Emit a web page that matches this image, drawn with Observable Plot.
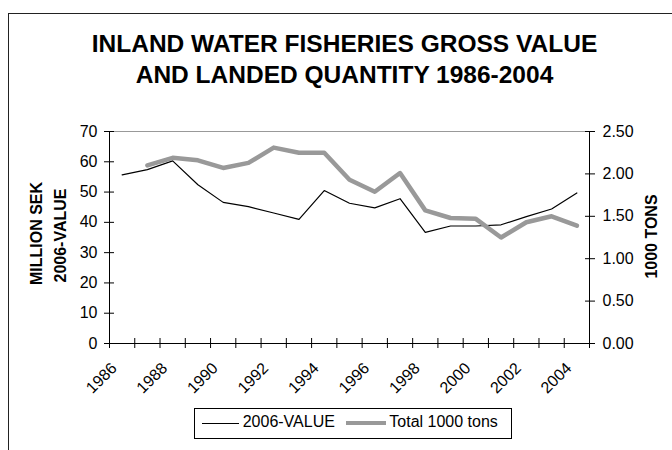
<!DOCTYPE html>
<html><head><meta charset="utf-8">
<script src="https://cdn.jsdelivr.net/npm/d3@7"></script>
<script src="https://cdn.jsdelivr.net/npm/@observablehq/plot@0.6"></script>
<style>
body{margin:0;background:#fff;font-family:"Liberation Sans",Arial,sans-serif;}
#wrap{position:relative;width:672px;height:450px;overflow:hidden;}
#frame{position:absolute;left:8px;top:13px;width:720px;height:520px;border:1px solid #222;}
#title{position:absolute;left:0;width:689px;top:27.6px;text-align:center;font-weight:bold;font-size:24.5px;line-height:31.8px;color:#000;}
#chart{position:absolute;left:0;top:0;}
#legend{position:absolute;left:194px;top:408px;width:316px;height:29px;border:1px solid #000;background:#fff;font-size:16px;}
#legend .sw{position:absolute;height:0;}
#legend .tx{position:absolute;top:5px;line-height:16px;white-space:nowrap;}
</style></head>
<body>
<div id="wrap">
  <div id="frame"></div>
  <div id="chart"></div>
  <div id="title"></div>
  <div id="legend"></div>
</div>
<script>
const titleLines = ["INLAND WATER FISHERIES GROSS VALUE", "AND LANDED QUANTITY 1986-2004"];
const years = [1986,1987,1988,1989,1990,1991,1992,1993,1994,1995,1996,1997,1998,1999,2000,2001,2002,2003,2004];
const value2006 = [55.7,57.4,60.3,52.4,46.6,45.2,43.1,41.0,50.5,46.3,44.8,47.8,36.7,38.8,38.8,39.2,41.9,44.4,49.7];
const tons = [null,2.10,2.19,2.16,2.07,2.13,2.31,2.25,2.25,1.93,1.79,2.01,1.57,1.48,1.47,1.25,1.43,1.50,1.39];
const seriesNames = ["2006-VALUE", "Total 1000 tons"];
const leftTicks = [0,10,20,30,40,50,60,70];
const rightTicks = [0,0.5,1,1.5,2,2.5];
const labelYears = [1986,1988,1990,1992,1994,1996,1998,2000,2002,2004];
const leftTitle = ["MILLION SEK", "2006-VALUE"];
const rightTitle = "1000 TONS";

const leftMax = leftTicks[leftTicks.length-1];
const rightMax = rightTicks[rightTicks.length-1];
const ratio = leftMax / rightMax;

const data = years.map((y,i) => ({year: y, value: value2006[i], tons: tons[i]}));
const boundaries = years.map(y => y - 0.5).concat([years[years.length-1] + 0.5]);
const x0 = years[0] - 0.5, x1 = years[years.length-1] + 0.5;

document.getElementById("title").innerHTML = titleLines.join("<br>");

const plot = Plot.plot({
  width: 672, height: 450,
  marginLeft: 109, marginRight: 83, marginTop: 131, marginBottom: 107,
  style: {fontFamily: "'Liberation Sans', Arial, sans-serif", fontSize: "16px", background: "transparent", color: "#000", overflow: "visible"},
  x: {type: "linear", domain: [x0, x1]},
  y: {domain: [0, leftMax]},
  marks: [
    Plot.ruleY([leftMax], {stroke: "#999"}),
    Plot.ruleY([0], {stroke: "#000"}),
    Plot.ruleX([x0, x1], {stroke: "#000"}),
    Plot.axisY(leftTicks, {anchor: "left", tickSize: 10, dx: 5, tickFormat: () => "", label: null}),
    Plot.axisY(leftTicks, {anchor: "left", tickSize: 0, tickPadding: 12, label: null}),
    Plot.axisY(rightTicks.map(d => d * ratio), {anchor: "right", tickSize: 10, dx: -5, tickFormat: () => "", label: null}),
    Plot.axisY(rightTicks.map(d => d * ratio), {anchor: "right", tickSize: 0, tickPadding: 13, tickFormat: d => (d / ratio).toFixed(2), label: null}),
    Plot.axisX(boundaries, {anchor: "bottom", tickSize: 10, dy: -5, tickFormat: () => "", label: null}),
    Plot.axisX(labelYears, {anchor: "bottom", tickSize: 0, tickRotate: -45, tickPadding: 22, dx: -8, tickFormat: d => String(d), label: null}),
    Plot.line(data, {x: "year", y: "value", stroke: "#000", strokeWidth: 1.2}),
    Plot.line(data.filter(d => d.tons != null), {x: "year", y: d => d.tons * ratio, stroke: "#999", strokeWidth: 4.5}),
    Plot.text([leftTitle[0]], {frameAnchor: "left", rotate: -90, dx: -72.3, dy: -4, fontWeight: "bold", text: d => d, textAnchor: "middle", lineAnchor: "middle"}),
    Plot.text([leftTitle[1]], {frameAnchor: "left", rotate: -90, dx: -49, dy: -2, fontWeight: "bold", text: d => d, textAnchor: "middle", lineAnchor: "middle"}),
    Plot.text([rightTitle], {frameAnchor: "right", rotate: -90, dx: 62.7, dy: -1, fontWeight: "bold", text: d => d, textAnchor: "middle", lineAnchor: "middle"})
  ]
});
document.getElementById("chart").appendChild(plot);

// legend
const legend = document.getElementById("legend");
const swatches = [
  {left: 7, width: 37, top: 14, border: "1.2px solid #000", textLeft: 47.7},
  {left: 151, width: 40, top: 12, border: "4.5px solid #999", textLeft: 194.3}
];
seriesNames.forEach((name, i) => {
  const s = swatches[i];
  const sw = document.createElement("div");
  sw.className = "sw";
  sw.style.left = s.left + "px"; sw.style.top = s.top + "px"; sw.style.width = s.width + "px";
  sw.style.borderTop = s.border;
  legend.appendChild(sw);
  const tx = document.createElement("div");
  tx.className = "tx";
  tx.style.left = s.textLeft + "px";
  tx.textContent = name;
  legend.appendChild(tx);
});
</script>
</body></html>
